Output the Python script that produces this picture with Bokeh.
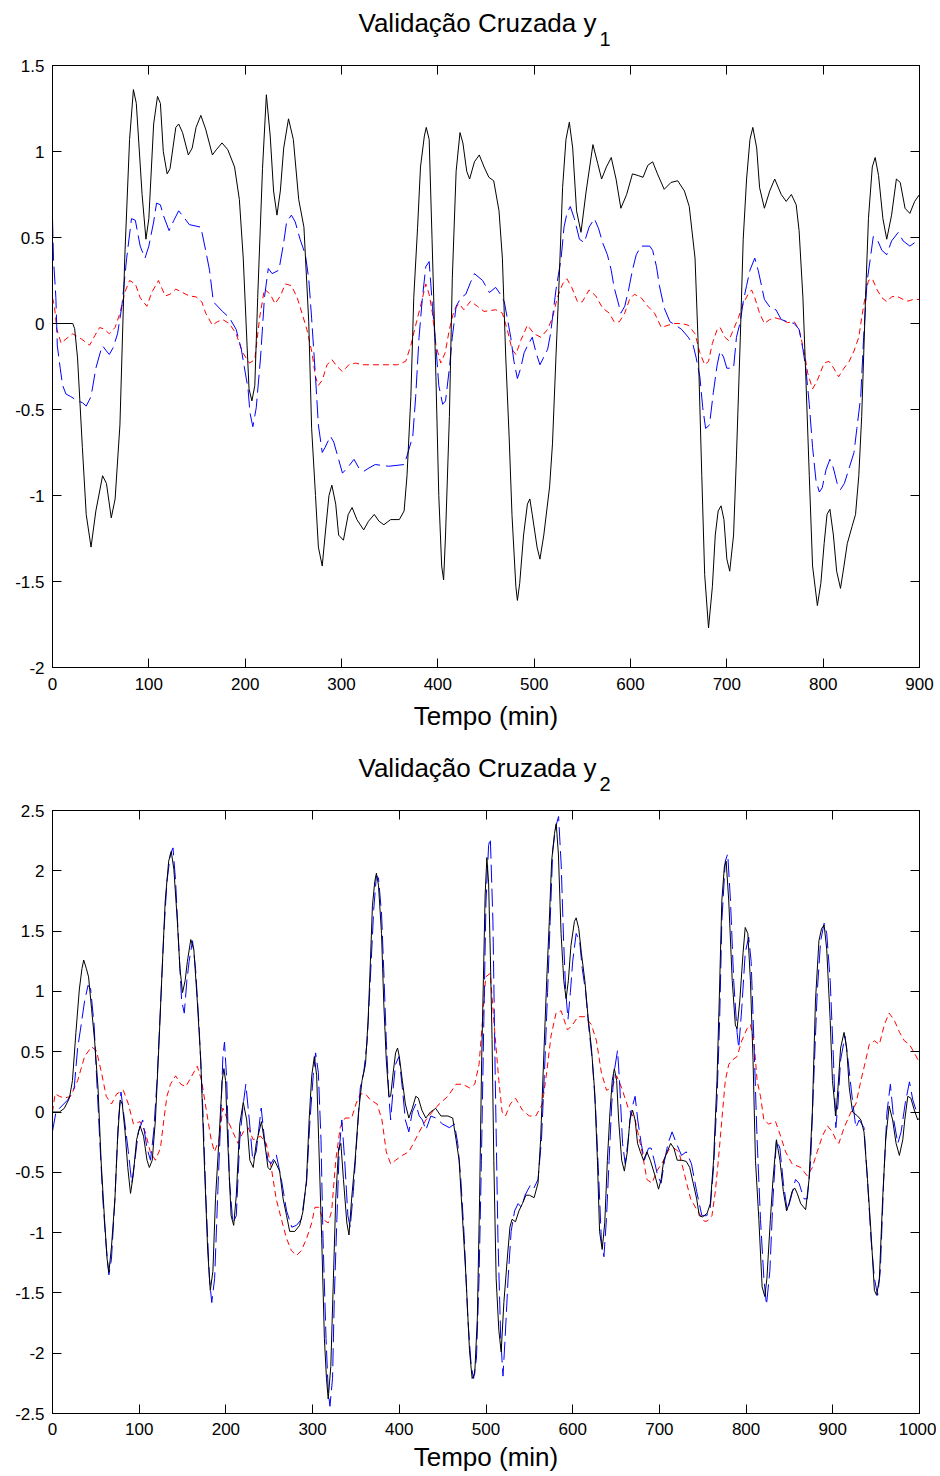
from bokeh.plotting import figure
from bokeh.layouts import column
from bokeh.models import Range1d, LinearAxis, FixedTicker, Title
from bokeh.embed import file_html
from bokeh.resources import INLINE

FONT = "Liberation Sans"

# ---------------- Panel 1: Validação Cruzada y1 ----------------
y1_title = "Validação Cruzada y"
y1_sub = "1"
x_label = "Tempo (min)"

y1_x_ticks = [0, 100, 200, 300, 400, 500, 600, 700, 800, 900]
y1_y_ticks = [-2, -1.5, -1, -0.5, 0, 0.5, 1, 1.5]
y1_y_tick_labels = ["-2", "-1.5", "-1", "-0.5", "0", "0.5", "1", "1.5"]

# measured output (black, solid)
t1_black = [0, 21, 23, 26, 31, 35, 40, 45, 52, 56, 61, 65, 70, 75, 80, 84, 87, 93, 97, 100,
            105, 109, 112, 115, 119, 122, 128, 131, 135, 141, 145, 149, 154, 159, 166, 170, 176, 182, 189, 194,
            198, 202, 204, 207, 210, 213, 218, 222, 226, 229.5, 233, 236.5, 240, 245, 250, 255.6, 261, 266, 269, 273,
            276, 280, 283, 287, 290, 294, 297, 302, 307, 311, 316, 323, 328, 334, 339, 344, 351, 360, 365, 368,
            372, 375, 379, 382, 386, 388, 391, 394, 398, 401, 404, 406, 408, 412, 415, 419, 423, 426, 430, 433,
            438, 443, 448, 453, 458, 463.5, 467, 470.5, 474, 477, 481, 482.6, 485, 489, 493, 495.5, 498, 503, 506, 510,
            516, 519, 522.6, 526, 529.5, 533, 536.5, 540, 544, 548.6, 554, 561, 566, 570, 575, 580, 585, 590, 596, 602,
            608, 613, 618, 623, 628, 635, 642, 649, 656, 661, 667, 670, 674, 677, 681, 685, 688, 691, 694, 697,
            700, 703, 707, 710, 714, 717, 720.5, 724, 727, 731, 734, 739, 744.5, 749.7, 756.5, 761.6, 767, 772, 775, 779,
            782, 785.6, 789, 794, 797.6, 801, 804, 807, 810.6, 814, 818, 821.6, 825, 830, 833.6, 837, 840, 844, 847, 851,
            854, 857.5, 862, 866, 871, 876, 880, 885, 890, 895, 900]
y1_black = [0, 0, -0.03, -0.2, -0.72, -1.11, -1.30, -1.09, -0.885, -0.93, -1.13, -1.02, -0.59, 0.38, 1.07, 1.36, 1.28, 0.75, 0.49, 0.61,
            1.16, 1.32, 1.28, 1.0, 0.87, 0.90, 1.14, 1.16, 1.11, 0.98, 1.02, 1.14, 1.21, 1.13, 0.98, 1.01, 1.05, 1.01, 0.91, 0.72,
            0.38, -0.13, -0.38, -0.45, -0.36, 0.15, 0.9, 1.33, 1.09, 0.77, 0.63, 0.77, 1.02, 1.19, 1.07, 0.72, 0.56, 0.01, -0.61, -1.0,
            -1.30, -1.41, -1.23, -1.0, -0.94, -1.05, -1.23, -1.26, -1.11, -1.07, -1.14, -1.20, -1.15, -1.11, -1.15, -1.17, -1.14, -1.14, -1.09, -0.885,
            -0.425, 0.15, 0.56, 0.91, 1.09, 1.14, 1.07, 0.49, -0.31, -1.0, -1.41, -1.49, -1.23, -0.54, 0.26, 0.885, 1.11, 1.05, 0.885, 0.84,
            0.94, 0.98, 0.91, 0.85, 0.83, 0.655, 0.38, -0.195, -0.655, -1.115, -1.53, -1.61, -1.51, -1.23, -1.05, -1.02, -1.11, -1.30, -1.37, -1.23,
            -0.95, -0.70, -0.195, 0.26, 0.79, 1.07, 1.17, 1.02, 0.655, 0.53, 0.77, 1.04, 0.93, 0.84, 0.91, 0.965, 0.84, 0.67, 0.75, 0.87,
            0.86, 0.85, 0.92, 0.94, 0.87, 0.78, 0.82, 0.83, 0.77, 0.68, 0.38, -0.08, -0.885, -1.46, -1.77, -1.53, -1.23, -1.09, -1.06, -1.14,
            -1.37, -1.44, -1.23, -0.77, -0.08, 0.49, 0.84, 1.07, 1.14, 1.02, 0.79, 0.67, 0.77, 0.84, 0.75, 0.71, 0.75, 0.69, 0.54, 0.15,
            -0.31, -0.885, -1.41, -1.64, -1.51, -1.28, -1.11, -1.08, -1.23, -1.44, -1.54, -1.41, -1.28, -1.18, -1.11, -0.885, -0.54, 0.15, 0.61, 0.91,
            0.965, 0.86, 0.61, 0.49, 0.63, 0.84, 0.82, 0.67, 0.64, 0.71, 0.75]

# model 1 (blue, long dashes)
t1_blue = [0, 1, 3.5, 5, 8, 10.5, 14, 19, 26, 31, 35, 40, 45, 50, 52, 56, 59, 63, 67.5, 72,
           77, 82, 86, 91, 96, 100, 105, 108, 112, 115, 121, 126, 131, 136, 142, 154, 159, 163, 167, 176.5,
           183.6, 190.6, 196, 199, 203, 205, 208, 211.5, 216, 220, 224, 228, 235, 240, 243, 248, 252, 257, 262.5, 266,
           269, 273, 276, 280, 283, 288.5, 292, 295.5, 301, 306, 313, 318, 323, 328.5, 335, 349, 365, 368, 374, 377,
           380.5, 384, 387.5, 391, 394.4, 398, 401, 405, 408, 412, 415, 419, 424, 429, 434, 438, 446.5, 453.5, 460, 465,
           469, 472, 475.7, 479, 482.6, 486, 489.6, 493, 498, 502, 506, 510, 514, 517, 522.6, 528, 531, 534, 537.5, 541.7,
           547, 552, 557, 562.5, 567, 571, 576, 580, 583, 587, 590, 594, 598, 602, 606, 611, 620, 623, 627, 630,
           635, 641, 646, 653, 660, 665, 668, 672, 675, 678, 682, 686, 690, 693, 696.6, 700, 707, 710, 714, 717,
           720.5, 724, 729, 732.5, 736, 739, 746, 751, 756.5, 763, 770, 775, 779, 782, 785.6, 789, 792.5, 796, 799, 803,
           807, 810.6, 815, 818, 822, 827, 832, 835, 839, 842, 845.5, 849, 852, 856, 861, 866, 871, 878, 883, 890,
           895, 900]
y1_blue = [0.61, 0.38, 0.15, -0.13, -0.26, -0.36, -0.41, -0.425, -0.45, -0.46, -0.48, -0.425, -0.26, -0.16, -0.13, -0.16, -0.18, -0.14, -0.06, 0.10,
           0.38, 0.61, 0.60, 0.45, 0.38, 0.45, 0.59, 0.70, 0.69, 0.63, 0.54, 0.60, 0.655, 0.62, 0.575, 0.56, 0.425, 0.31, 0.126, 0.07,
           0.034, -0.034, -0.15, -0.25, -0.38, -0.52, -0.60, -0.49, -0.195, 0.15, 0.32, 0.29, 0.31, 0.47, 0.59, 0.63, 0.59, 0.49, 0.40, 0.26,
           0.03, -0.31, -0.59, -0.75, -0.72, -0.655, -0.69, -0.76, -0.87, -0.84, -0.79, -0.84, -0.86, -0.84, -0.82, -0.83, -0.82, -0.77, -0.655, -0.425,
           -0.08, 0.15, 0.33, 0.36, 0.10, -0.13, -0.36, -0.47, -0.45, -0.26, -0.08, 0.10, 0.15, 0.17, 0.24, 0.29, 0.25, 0.18, 0.21, 0.17,
           0.126, 0.034, -0.08, -0.22, -0.32, -0.26, -0.17, -0.13, -0.08, -0.17, -0.24, -0.195, -0.15, -0.06, 0.195, 0.38, 0.56, 0.64, 0.68, 0.61,
           0.49, 0.47, 0.56, 0.61, 0.55, 0.47, 0.40, 0.31, 0.21, 0.126, 0.06, 0.10, 0.195, 0.31, 0.40, 0.45, 0.45, 0.425, 0.33, 0.22,
           0.09, 0.01, -0.007, -0.034, -0.08, -0.126, -0.195, -0.31, -0.49, -0.61, -0.59, -0.40, -0.24, -0.16, -0.195, -0.26, -0.26, -0.08, 0.01, 0.126,
           0.22, 0.31, 0.38, 0.31, 0.22, 0.14, 0.085, 0.08, 0.023, 0.01, 0, -0.034, -0.15, -0.26, -0.47, -0.72, -0.91, -0.98, -0.955, -0.85,
           -0.79, -0.84, -0.94, -0.965, -0.93, -0.84, -0.75, -0.61, -0.425, -0.08, 0.24, 0.38, 0.505, 0.49, 0.425, 0.40, 0.48, 0.53, 0.48, 0.45,
           0.47, 0.48]

# model 2 (red, short dashes)
t1_red = [0, 2, 4.5, 9, 14, 21, 30, 38.5, 44, 49, 54, 59, 65, 70, 75, 80, 86, 91, 98, 103,
          110, 117, 122, 128, 135, 142, 149, 155, 159, 166, 171, 176.5, 183.6, 190.6, 197.5, 204.5, 210, 215, 220, 226,
          231, 236.5, 241.7, 248, 254, 259, 264, 269.4, 273, 276, 280, 285, 290, 295.5, 301, 307.6, 314.6, 321.5, 339, 358,
          366.7, 372, 377, 382, 387.5, 391, 394.4, 398, 403, 407.6, 412, 417, 422, 427, 434, 441, 448, 460, 467, 472,
          477, 481, 486, 493, 500, 507, 514, 519, 524, 529.5, 534, 539, 545, 550, 557, 564, 571, 578, 583, 588.5,
          594, 599, 604, 611, 618, 625, 632, 639, 646, 653, 660, 667, 672, 677, 681, 685, 690, 693, 698, 702,
          707, 712, 717, 722, 725.7, 729, 734, 739, 744.5, 749.7, 756.5, 763, 770, 775, 780.5, 784, 789, 794, 801, 806,
          811, 816, 821.6, 827, 832, 837, 840, 844, 847, 851, 856, 861, 866, 871, 876, 883, 888, 893.5, 900]
y1_red = [0.15, 0.10, -0.034, -0.115, -0.09, -0.06, -0.09, -0.126, -0.07, -0.023, -0.034, -0.06, -0.023, 0.06, 0.18, 0.25, 0.23, 0.15, 0.10, 0.18,
          0.25, 0.16, 0.17, 0.20, 0.18, 0.16, 0.155, 0.126, 0.06, -0.01, 0.01, 0.023, 0, -0.06, -0.17, -0.23, -0.21, 0.034, 0.2, 0.17,
          0.115, 0.16, 0.23, 0.22, 0.15, 0.06, -0.034, -0.17, -0.31, -0.36, -0.33, -0.24, -0.21, -0.25, -0.28, -0.24, -0.23, -0.24, -0.24, -0.24,
          -0.22, -0.126, -0.01, 0.10, 0.23, 0.17, 0.06, -0.126, -0.23, -0.17, -0.034, 0.08, 0.115, 0.08, 0.13, 0.10, 0.07, 0.08, 0.06, -0.034,
          -0.15, -0.18, -0.10, -0.01, -0.06, -0.08, -0.034, 0.034, 0.15, 0.23, 0.26, 0.21, 0.126, 0.126, 0.195, 0.16, 0.09, 0.06, 0.01, 0.01,
          0.06, 0.14, 0.17, 0.15, 0.10, 0.06, -0.023, -0.01, 0, 0, -0.01, -0.06, -0.17, -0.24, -0.22, -0.115, -0.034, -0.023, -0.08, -0.10,
          -0.034, 0.034, 0.115, 0.17, 0.195, 0.15, 0.06, 0, 0.023, 0.034, 0.023, 0.005, 0.01, -0.034, -0.17, -0.29, -0.38, -0.33, -0.23, -0.22,
          -0.26, -0.31, -0.26, -0.22, -0.16, -0.08, 0.034, 0.17, 0.25, 0.26, 0.195, 0.15, 0.126, 0.155, 0.16, 0.14, 0.13, 0.14, 0.14]

# ---------------- Panel 2: Validação Cruzada y2 ----------------
y2_title = "Validação Cruzada y"
y2_sub = "2"

y2_x_ticks = [0, 100, 200, 300, 400, 500, 600, 700, 800, 900, 1000]
y2_y_ticks = [-2.5, -2, -1.5, -1, -0.5, 0, 0.5, 1, 1.5, 2, 2.5]
y2_y_tick_labels = ["-2.5", "-2", "-1.5", "-1", "-0.5", "0", "0.5", "1", "1.5", "2", "2.5"]

t2_black = [0, 8, 13.6, 19.5, 23, 27, 31, 34, 36, 39, 41.6, 45, 48.6, 52.5, 56, 60, 63, 65, 68, 72,
            75, 78, 80.5, 83.7, 86.8, 90, 93, 97, 101, 105, 109, 111.7, 115, 118.7, 122.6, 126.5, 130, 134, 137, 140,
            144, 147, 150, 153, 155.6, 159.5, 163, 167, 171, 175, 179, 182, 185, 188, 192, 195.7, 197.7, 199.6, 202, 206,
            209, 212, 216, 220, 224, 227.6, 231.5, 235, 241, 245, 248.5, 251, 256, 262, 266, 270, 273.6, 279.5, 285, 289,
            293, 296, 299, 302, 304.7, 307, 310.5, 313.6, 316, 318, 321, 324, 326.7, 330, 332.6, 335.6, 339.5, 342, 345, 349,
            353, 357, 361, 364, 366.7, 369, 371.7, 373.6, 376, 379.5, 382, 385, 388, 390, 393, 395.7, 398, 400, 403.5, 407,
            411, 415, 419, 422, 426, 430.6, 436, 442, 448, 456, 461.6, 465.5, 469, 473, 477, 481, 484, 487, 490, 492.6,
            495, 497, 499, 501, 503, 505, 507, 509, 511.7, 514.8, 517.5, 520.6, 524.5, 527.6, 530, 534, 538, 542, 546, 550,
            555.5, 560, 563, 567, 570, 573, 575.7, 579, 581, 583.5, 586.6, 589.7, 592.4, 595, 598, 602, 604, 607, 610, 614,
            617.7, 621.6, 625.4, 628.5, 631, 634, 637, 640, 643, 645.6, 648, 650.7, 653, 656.5, 659.6, 663, 666, 669, 672, 674.8,
            678, 681.7, 685.6, 689.5, 695, 699, 702, 705, 709, 713, 716.7, 720.6, 726, 731, 735, 739, 743, 746, 749.7, 755,
            758.7, 762.5, 766.4, 769, 772, 775, 777, 780, 784, 787.6, 789.6, 792.7, 796.5, 799, 802, 805, 808, 810.8, 814.7, 818.5,
            821.6, 824, 828, 831, 835, 839, 843, 846.7, 849.4, 853, 856, 859, 863, 868.7, 872.6, 876.4, 880, 884, 887, 890,
            893, 897, 899.6, 903.5, 906, 909, 913, 916, 919, 922.8, 928.6, 932.4, 936, 940, 944, 948, 950.6, 953.7, 957.5, 961,
            965, 969, 973, 976.8, 980.7, 983, 986.5, 990, 994, 998, 1000]
y2_black = [0, 0, 0.03, 0.115, 0.26, 0.66, 1.02, 1.19, 1.26, 1.19, 1.12, 0.86, 0.59, 0.20, -0.40, -0.89, -1.22, -1.33, -1.12, -0.72,
            -0.23, 0.10, 0.066, -0.165, -0.46, -0.675, -0.53, -0.23, -0.115, -0.20, -0.40, -0.46, -0.40, -0.066, 0.53, 1.19, 1.75, 2.08, 2.16, 2.01,
            1.58, 1.19, 0.99, 1.09, 1.25, 1.43, 1.35, 0.92, 0.43, -0.40, -1.15, -1.48, -1.32, -0.72, -0.23, 0.26, 0.36, 0.26, -0.23, -0.86,
            -0.94, -0.69, -0.10, 0.08, -0.066, -0.40, -0.46, -0.26, -0.08, -0.27, -0.46, -0.48, -0.40, -0.49, -0.72, -0.86, -0.99, -0.99, -0.94, -0.82,
            -0.56, -0.066, 0.30, 0.46, 0.30, -0.23, -1.05, -1.88, -2.21, -2.38, -2.11, -1.38, -0.72, -0.30, -0.26, -0.56, -0.92, -1.02, -0.72, -0.40,
            0, 0.26, 0.395, 0.76, 1.25, 1.71, 1.91, 1.98, 1.88, 1.48, 0.92, 0.43, 0.13, 0.13, 0.33, 0.49, 0.53, 0.46, 0.26, 0.066,
            -0.05, 0.03, 0.13, 0.115, 0.016, -0.05, 0, 0.03, -0.033, -0.033, -0.05, -0.23, -0.40, -0.89, -1.38, -1.98, -2.21, -2.17, -1.71, -0.72,
            0.43, 1.1, 1.8, 2.11, 1.9, 1.3, 0.6, -0.40, -1.38, -1.81, -1.99, -1.58, -1.22, -0.955, -0.89, -0.91, -0.82, -0.76, -0.69, -0.69,
            -0.71, -0.59, -0.23, 0.53, 1.09, 1.58, 2.08, 2.31, 2.39, 2.14, 1.48, 1.09, 0.94, 1.09, 1.38, 1.58, 1.61, 1.52, 1.32, 1.09,
            0.79, 0.53, 0.165, -0.40, -0.99, -1.14, -0.92, -0.40, 0, 0.26, 0.36, 0.26, -0.066, -0.40, -0.49, -0.33, -0.066, 0.016, -0.066, -0.26,
            -0.33, -0.40, -0.33, -0.40, -0.53, -0.64, -0.56, -0.40, -0.33, -0.26, -0.30, -0.40, -0.40, -0.41, -0.46, -0.59, -0.72, -0.86, -0.87, -0.84,
            -0.76, -0.40, 0.26, 0.92, 1.75, 2.04, 2.08, 1.75, 1.09, 0.72, 0.69, 0.92, 1.32, 1.53, 1.48, 1.09, 0.43, -0.40, -0.89, -1.45,
            -1.53, -1.38, -0.89, -0.56, -0.23, -0.40, -0.66, -0.82, -0.76, -0.66, -0.63, -0.675, -0.76, -0.81, -0.56, 0, 0.92, 1.42, 1.52, 1.55,
            1.35, 0.76, 0.26, -0.033, 0.20, 0.53, 0.66, 0.53, 0.20, 0, -0.033, -0.066, -0.165, -0.56, -0.99, -1.48, -1.52, -1.38, -0.72, -0.23,
            0.05, -0.066, -0.26, -0.36, -0.23, -0.066, 0.13, 0.115, 0.016, -0.066, -0.05]

t2_blue = [0, 4, 8, 17.5, 25, 29, 33, 37, 41, 44, 48, 50.6, 54.5, 58, 62, 65, 68, 72, 76, 79,
           83, 87.5, 91.4, 95, 99, 104, 109, 113, 116.7, 120.6, 124.5, 128.4, 132, 136, 139, 142, 146, 149, 152, 155,
           157.6, 161.5, 165, 169, 173, 177, 181, 183.7, 187, 190.7, 194, 196.5, 198.4, 201, 204, 208, 212, 216, 220, 223,
           227, 231, 235, 240.7, 244.6, 248.5, 252, 258, 264, 270, 276, 281.4, 287, 293, 297, 301, 303.5, 306.6, 309.7, 312,
           315.5, 318, 320, 323, 325, 328, 330.6, 333.7, 337, 340.7, 343.4, 347, 351, 355, 359, 363, 366.7, 370.5, 373.6, 376,
           379.5, 382, 385, 388, 390, 393, 395.7, 399.6, 403.5, 407, 411, 415, 419, 423, 426.7, 430.6, 436.4, 442, 450, 457.7,
           463.6, 467.4, 471, 475, 479, 483, 485.7, 489, 492, 494.7, 497.5, 500, 503, 505, 508, 510.7, 513.8, 517, 519.6, 522,
           525.5, 529, 533, 537, 541, 545, 551, 554.6, 560, 564, 568, 571, 574, 577, 580.6, 583.7, 586.8, 589.5, 592, 594.6,
           597.3, 600, 604, 608, 611, 615, 618.7, 622.6, 626.4, 629.5, 633, 636, 638.9, 642, 645, 647.8, 651.7, 654, 657.5, 660.6,
           664, 667, 672, 675, 679, 682.7, 687.4, 690.5, 694, 698, 702, 706, 710, 714.6, 719.6, 725.5, 731, 737, 743, 749,
           754.6, 758.7, 762.5, 766.4, 769.5, 772, 776, 778.8, 782, 785.7, 789.6, 791.5, 795, 799, 803, 805.8, 809, 812.7, 816.6, 820.5,
           823.5, 827.4, 831, 835, 839, 843, 847.5, 851.4, 857, 861, 866.8, 870.6, 874.5, 878, 882, 886, 890, 893, 897, 900.8,
           903.5, 906, 909, 914, 917.6, 921.6, 926.6, 930.5, 936, 940, 944, 948, 951.7, 954.8, 958.7, 962.5, 966.4, 970.3, 975, 978.8,
           983.4, 988.4, 992.3, 996, 1000]
y2_blue = [-0.16, 0, 0.03, 0.10, 0.20, 0.53, 0.72, 0.92, 1.05, 1.02, 0.72, 0.33, -0.23, -0.72, -1.12, -1.35, -1.22, -0.72, -0.066, 0.165,
           -0.066, -0.33, -0.59, -0.40, -0.165, -0.066, -0.30, -0.40, -0.165, 0.26, 0.86, 1.48, 1.91, 2.14, 2.19, 1.91, 1.32, 0.92, 0.82, 1.09,
           1.25, 1.42, 1.19, 0.72, 0.10, -0.72, -1.38, -1.58, -1.38, -0.66, -0.066, 0.46, 0.58, 0.26, -0.56, -0.92, -0.86, -0.23, 0.066, 0.23,
           -0.066, -0.40, -0.33, 0.033, -0.23, -0.40, -0.43, -0.35, -0.56, -0.82, -0.955, -0.94, -0.89, -0.59, -0.066, 0.33, 0.49, 0.33, -0.23, -1.05,
           -1.88, -2.31, -2.44, -2.21, -1.55, -0.89, -0.33, -0.066, -0.40, -0.86, -0.955, -0.66, -0.23, 0.20, 0.33, 0.59, 1.12, 1.68, 1.96, 1.94,
           1.65, 1.19, 0.59, 0.13, -0.066, 0.20, 0.395, 0.46, 0.20, -0.066, -0.165, 0, 0.066, -0.033, -0.066, -0.15, -0.033, -0.05, -0.10, -0.13,
           -0.10, -0.26, -0.56, -1.05, -1.71, -2.11, -2.21, -2.04, -1.38, -0.40, 0.76, 1.75, 2.21, 2.27, 1.58, 0.26, -1.05, -1.88, -2.19, -1.88,
           -1.38, -0.99, -0.82, -0.76, -0.79, -0.69, -0.61, -0.64, -0.56, -0.23, 0.43, 0.99, 1.58, 2.17, 2.37, 2.45, 2.04, 1.42, 0.99, 0.77,
           0.99, 1.25, 1.48, 1.42, 1.19, 0.99, 0.69, 0.43, 0.03, -0.46, -1.05, -1.20, -0.89, -0.40, 0.066, 0.33, 0.51, 0.26, -0.26, -0.43,
           -0.23, 0, 0.13, -0.066, -0.26, -0.40, -0.30, -0.30, -0.40, -0.53, -0.59, -0.40, -0.26, -0.165, -0.26, -0.36, -0.33, -0.43, -0.66, -0.86,
           -0.86, -0.79, -0.46, 0.10, 0.76, 1.58, 2.08, 2.14, 1.75, 1.09, 0.66, 0.53, 0.86, 1.32, 1.45, 1.25, 0.59, -0.23, -0.89, -1.38,
           -1.60, -1.32, -0.72, -0.23, -0.30, -0.59, -0.82, -0.72, -0.56, -0.59, -0.72, -0.72, -0.40, 0.26, 0.99, 1.42, 1.565, 1.48, 1.09, 0.43,
           -0.13, 0.066, 0.43, 0.63, 0.43, 0.165, -0.13, -0.066, -0.13, -0.56, -1.05, -1.38, -1.52, -1.32, -0.56, 0, 0.23, -0.066, -0.26, -0.165,
           0.066, 0.25, 0.10, 0.016, 0.016]

t2_red = [0, 3, 8, 13.6, 21, 29, 37, 45, 50.6, 56.4, 62, 68, 74, 81.7, 87.5, 93.4, 101, 107, 112.8, 118.7,
          124.5, 128.4, 132, 136, 142, 148, 153.7, 160.7, 167, 172, 177, 183, 186.8, 192, 196.5, 202, 208, 214, 220, 225.7,
          231.5, 240, 246.5, 252.3, 258, 264, 270, 275.6, 281.4, 287, 293, 299, 302.7, 307, 312, 318, 322, 326.7, 331.8, 337.6,
          345, 350, 355, 361, 366.7, 374.4, 380, 385, 390, 395.7, 403.5, 411, 417, 423, 430.6, 438, 446, 456, 465.5, 473,
          481, 487, 492, 496, 499.6, 505, 509, 514.8, 518.6, 522.5, 528, 534, 542, 550, 557.5, 565, 570, 575, 580.8, 586.6,
          594, 600, 606, 614, 621.6, 627.4, 633, 639, 645, 650.7, 656.5, 664, 672, 680, 685.6, 691.5, 697, 705, 711, 716.7,
          722.5, 728, 736, 744, 751.6, 755, 760.6, 764.5, 768, 772, 776, 780, 784, 789.6, 795, 801, 805, 809, 812.7, 816.6,
          820.5, 826, 834, 839.8, 845.5, 853, 863, 870.6, 876.4, 882, 888, 893.8, 899.6, 903.5, 907, 913, 921, 926.6, 932.4, 938,
          942, 948, 953.7, 959.5, 965, 971, 977, 982.6, 988.4, 994, 1000]
y2_red = [0, 0.15, 0.13, 0.115, 0.13, 0.26, 0.46, 0.54, 0.51, 0.33, 0.13, 0.066, 0.15, 0.18, 0.066, -0.10, -0.08, -0.165, -0.33, -0.40,
          -0.30, -0.066, 0.13, 0.23, 0.30, 0.23, 0.21, 0.30, 0.38, 0.26, 0.033, -0.23, -0.33, -0.23, 0.033, -0.066, -0.165, -0.26, -0.165, -0.13,
          -0.23, -0.2, -0.26, -0.46, -0.72, -0.89, -1.05, -1.15, -1.19, -1.15, -1.05, -0.92, -0.79, -0.79, -0.89, -0.92, -0.82, -0.40, -0.13, -0.05,
          -0.05, 0.066, 0.15, 0.15, 0.10, 0.066, -0.066, -0.33, -0.43, -0.40, -0.36, -0.33, -0.25, -0.165, -0.066, 0, 0.066, 0.13, 0.23, 0.23,
          0.20, 0.23, 0.395, 0.76, 1.12, 1.15, 0.76, 0.26, 0, -0.033, 0.066, 0.115, 0.016, -0.033, -0.033, 0.066, 0.33, 0.63, 0.82, 0.84,
          0.68, 0.725, 0.79, 0.79, 0.725, 0.59, 0.33, 0.18, 0.20, 0.30, 0.20, 0.033, -0.066, -0.33, -0.56, -0.59, -0.49, -0.40, -0.31, -0.30,
          -0.33, -0.49, -0.72, -0.82, -0.905, -0.905, -0.86, -0.66, -0.40, -0.066, 0.26, 0.395, 0.43, 0.46, 0.59, 0.69, 0.725, 0.59, 0.26, 0.13,
          -0.066, -0.10, -0.08, -0.20, -0.33, -0.43, -0.46, -0.53, -0.46, -0.33, -0.20, -0.115, -0.165, -0.23, -0.26, -0.13, 0, 0.066, 0.26, 0.43,
          0.56, 0.59, 0.56, 0.725, 0.82, 0.76, 0.66, 0.59, 0.56, 0.49, 0.41]


def style_panel(p, x_ticks, y_ticks, y_labels, tick_standoff, label_standoff):
    p.outline_line_color = "black"
    p.outline_line_width = 1
    p.xgrid.visible = False
    p.ygrid.visible = False
    p.background_fill_color = "white"
    p.border_fill_color = "white"

    xa = p.xaxis[0]
    xa.ticker = FixedTicker(ticks=x_ticks)
    ya = p.yaxis[0]
    ya.ticker = FixedTicker(ticks=y_ticks)
    ya.major_label_overrides = {v: s for v, s in zip(y_ticks, y_labels)}
    for ax in (xa, ya):
        ax.axis_line_color = "black"
        ax.major_tick_in = 9
        ax.major_tick_out = 0
        ax.major_tick_line_color = "black"
        ax.minor_tick_line_color = None
        ax.major_label_text_font = FONT
        ax.major_label_text_font_size = "17px"
        ax.major_label_text_color = "black"
    xa.major_label_standoff = tick_standoff
    ya.major_label_standoff = 8
    xa.axis_label = x_label
    xa.axis_label_text_font = FONT
    xa.axis_label_text_font_size = "26px"
    xa.axis_label_text_font_style = "normal"
    xa.axis_label_text_color = "black"
    xa.axis_label_standoff = label_standoff

    # tick marks on the top and right edges of the box (no labels)
    top = LinearAxis(ticker=FixedTicker(ticks=x_ticks),
                     major_label_overrides={v: "" for v in x_ticks},
                     major_label_text_color=None, major_label_text_font_size="1px",
                     major_tick_in=9, major_tick_out=0, minor_tick_line_color=None,
                     axis_line_color="black", major_label_standoff=0)
    right = LinearAxis(ticker=FixedTicker(ticks=y_ticks),
                       major_label_overrides={v: "" for v in y_ticks},
                       major_label_text_color=None, major_label_text_font_size="1px",
                       major_tick_in=9, major_tick_out=0, minor_tick_line_color=None,
                       axis_line_color="black", major_label_standoff=0)
    p.add_layout(top, "above")
    p.add_layout(right, "right")


def add_lines(p, tb, yb, tbl, ybl, tr, yr):
    p.line(tr, yr, line_color="red", line_width=1, line_dash="6 4")
    p.line(tbl, ybl, line_color="blue", line_width=1, line_dash="18 6")
    p.line(tb, yb, line_color="black", line_width=1)


def add_title(p, main, sub):
    # subscript row (closer to the box), then the main text row pulled down over it
    p.add_layout(Title(text=sub, align="left", offset=547, standoff=40,
                       text_font=FONT, text_font_size="20px", text_font_style="normal",
                       text_color="black"), "above")
    p.add_layout(Title(text=main, align="left", offset=306, standoff=-56,
                       text_font=FONT, text_font_size="26px", text_font_style="normal",
                       text_color="black"), "above")


p1 = figure(width=936, height=740, x_range=Range1d(0, 900), y_range=Range1d(-2, 1.5),
            output_backend="svg", toolbar_location=None, title=None,
            min_border_left=52, min_border_right=17, min_border_top=65, min_border_bottom=73)
style_panel(p1, y1_x_ticks, y1_y_ticks, y1_y_tick_labels, 10, 8)
add_lines(p1, t1_black, y1_black, t1_blue, y1_blue, t1_red, y1_red)
add_title(p1, y1_title, y1_sub)

p2 = figure(width=936, height=736, x_range=Range1d(0, 1000), y_range=Range1d(-2.5, 2.5),
            output_backend="svg", toolbar_location=None, title=None,
            min_border_left=52, min_border_right=17, min_border_top=70, min_border_bottom=63)
style_panel(p2, y2_x_ticks, y2_y_ticks, y2_y_tick_labels, 9, 4)
add_lines(p2, t2_black, y2_black, t2_blue, y2_blue, t2_red, y2_red)
add_title(p2, y2_title, y2_sub)

layout = column(p1, p2, spacing=0)
open("out.html", "w").write(file_html(layout, INLINE))
